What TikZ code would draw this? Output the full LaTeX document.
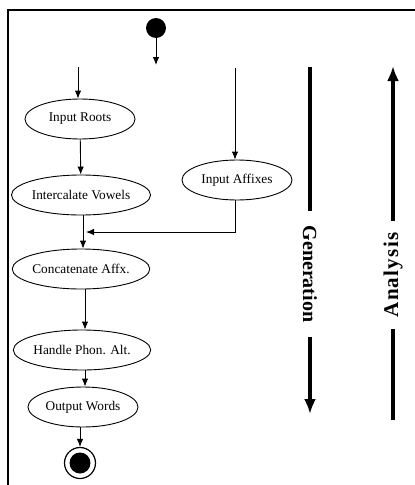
\documentclass[tikz,border=0pt]{standalone}
\usepackage{fontspec}
\setmainfont{Liberation Serif}
\usetikzlibrary{shapes.geometric,arrows.meta}
\begin{document}
\begin{tikzpicture}[x=1pt,y=1pt,
  act/.style={draw,line width=0.9pt,ellipse,fill=white,minimum width=110pt,minimum height=40pt,inner sep=0pt,font=\fontsize{13.3}{15}\selectfont},
  flow/.style={line width=0.9pt,-{Latex[length=8pt,width=6.5pt]}},
  big/.style={line width=3.6pt},
  bigarr/.style={line width=3.6pt,-{Latex[length=15pt,width=12pt]}},
  lbl/.style={font=\fontsize{20}{24}\selectfont\bfseries,fill=white,inner ysep=2pt}]
\useasboundingbox (0,-485) rectangle (415,0);
% frame
\draw[line width=2pt] (8,-485) -- (8,-10) -- (415,-10);
% start
\node[circle,fill=black,minimum size=20pt,inner sep=0pt] (start) at (156,-28) {};
\coordinate (startend) at (156,-65);
\draw[flow] (start) -- (startend);
% nodes
\node[act] (roots) at (80,-119) {Input Roots};
\node[act,minimum width=112pt] (inter) at (81,-195) {Intercalate Vowels};
\node[act] (aff) at (237,-180) {Input Affixes};
\node[act,minimum width=112pt] (conc) at (81,-269) {Concatenate Affx.};
\node[act] (hand) at (82,-350) {Handle Phon. Alt.};
\node[act] (out) at (83,-407) {Output Words};
\node[circle,draw,line width=1.2pt,minimum size=31pt,inner sep=0pt] (endo) at (80,-463) {};
\node[circle,fill=black,minimum size=21pt,inner sep=0pt] (endi) at (80,-463) {};
% free arrow starts
\coordinate (rootsin) at (78,-67);
\coordinate (affin) at (235,-68);
\coordinate (join) at (86,-232);
\draw[flow] (rootsin) -- (rootsin |- roots.north);
\draw[flow] (affin) -- (affin |- aff.north);
\draw[flow] (roots) -- (inter);
\draw[flow] (83,0 |- inter.south) -- (83,0 |- conc.north);
\draw[flow] (235,0 |- aff.south) |- (join);
\draw[flow] (85,0 |- conc.south) -- (85,0 |- hand.north);
\draw[flow] (85,0 |- hand.south) -- (85,0 |- out.north);
\draw[flow] (80,0 |- out.south) -- (endo);
% generation / analysis
\coordinate (gtop) at (310,-67);
\coordinate (gbot) at (310,-414);
\draw[bigarr] (gtop) -- (gbot);
\node[lbl,rotate=-90,inner xsep=15pt] (gen) at (310,-274) {Generation};
\coordinate (atop) at (393,-66);
\coordinate (abot) at (393,-420);
\draw[bigarr] (abot) -- (atop);
\node[lbl,rotate=90,inner xsep=12pt,font=\fontsize{21}{24}\selectfont\bfseries] (ana) at (393,-275) {\addfontfeature{LetterSpace=6}Analysis};
\end{tikzpicture}
\end{document}
